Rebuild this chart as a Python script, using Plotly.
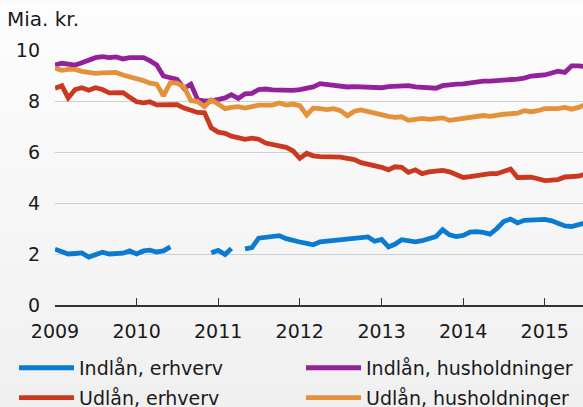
import plotly.graph_objects as go
import pandas as pd

months = pd.date_range("2009-01-01", periods=79, freq="MS")

indlaan_erhverv = [2.19,2.08,2.0,2.02,2.04,1.88,1.95,2.07,2.0,2.0,2.03,2.12,
                   2.0,2.12,2.15,2.08,2.12,2.28,None,None,None,None,None,2.05,
                   2.14,1.98,2.22,None,2.2,2.25,2.62,2.65,2.7,2.72,2.6,2.52,
                   2.47,2.42,2.36,2.48,2.51,2.51,2.56,2.6,2.63,2.63,2.67,2.5,
                   2.57,2.28,2.38,2.56,2.52,2.48,2.52,2.6,2.68,2.95,2.75,2.68,
                   2.73,2.86,2.88,2.85,2.78,3.0,3.27,3.37,3.22,3.32,3.32,3.33,
                   3.36,3.3,3.22,3.1,3.08,3.15,3.22]
indlaan_hush = [9.41,9.48,9.45,9.41,9.5,9.6,9.7,9.74,9.7,9.73,9.65,9.7,
                9.72,9.7,9.58,9.41,8.98,8.9,8.85,8.5,8.66,8.05,8.0,8.0,
                8.05,8.12,8.25,8.1,8.28,8.3,8.45,8.47,8.44,8.43,8.44,8.42,
                8.45,8.5,8.55,8.68,8.65,8.62,8.56,8.55,8.56,8.55,8.5,8.5,
                8.52,8.56,8.58,8.58,8.6,8.55,8.52,8.5,8.5,8.6,8.65,8.66,
                8.67,8.72,8.76,8.78,8.78,8.79,8.8,8.82,8.86,8.9,8.98,9.0,
                9.02,9.1,9.17,9.12,9.38,9.38,9.35]
udlaan_erhverv = [8.5,8.6,8.12,8.45,8.52,8.42,8.52,8.45,8.32,8.33,8.33,8.15,
                  7.97,7.93,7.97,7.85,7.84,7.86,7.86,7.72,7.65,7.55,7.54,6.95,
                  6.78,6.73,6.62,6.58,6.5,6.54,6.5,6.35,6.3,6.26,6.18,6.05,
                  5.75,5.95,5.85,5.82,5.82,5.84,5.8,5.75,5.7,5.58,5.52,5.48,
                  5.4,5.3,5.42,5.4,5.2,5.3,5.15,5.22,5.27,5.28,5.22,5.12,
                  5.0,5.03,5.08,5.1,5.15,5.15,5.22,5.33,5.0,5.01,5.01,4.95,
                  4.88,4.9,4.92,5.02,5.03,5.05,5.14]
udlaan_hush = [9.28,9.2,9.24,9.24,9.16,9.1,9.08,9.1,9.12,9.12,9.02,8.96,
               8.9,8.8,8.7,8.66,8.2,8.72,8.7,8.55,8.02,7.98,7.78,8.05,
               7.88,7.7,7.75,7.78,7.72,7.78,7.84,7.84,7.84,7.92,7.84,7.88,
               7.82,7.45,7.72,7.7,7.66,7.7,7.62,7.42,7.6,7.65,7.58,7.54,
               7.48,7.4,7.36,7.38,7.24,7.28,7.32,7.28,7.33,7.34,7.24,7.28,
               7.35,7.38,7.42,7.43,7.4,7.46,7.48,7.5,7.52,7.62,7.58,7.62,
               7.7,7.7,7.7,7.75,7.68,7.75,7.85]

names = ["Indlån, erhverv", "Indlån, husholdninger", "Udlån, erhverv", "Udlån, husholdninger"]
series = [indlaan_erhverv, indlaan_hush, udlaan_erhverv, udlaan_hush]
colors = ["#0b7ad1", "#93229a", "#c9381f", "#e3923a"]

year_vals = ["2009-01-01", "2010-01-01", "2011-01-01", "2012-01-01", "2013-01-01", "2014-01-01", "2015-01-01"]
year_text = ["2009", "2010", "2011", "2012", "2013", "2014", "2015"]
y_ticks = [0, 2, 4, 6, 8, 10]

FONT = "DejaVu Sans"
FS = 19
W, H = 583, 407
L, R, T, B = 55, 0, 49.5, 102
pw, ph = W - L - R, H - T - B


def px_x(px):
    return (px - L) / pw


def px_y(py):
    return (T + ph - py) / ph


# legend slot positions (left px, centre-y px)
leg_pos = [(14, 368), (301, 368), (14, 398), (301, 398)]
leg_ids = ["legend", "legend2", "legend3", "legend4"]

fig = go.Figure()
for nm, ys, c, lg in zip(names, series, colors, leg_ids):
    fig.add_trace(go.Scatter(x=months, y=ys, name=nm, mode="lines",
                             line=dict(color=c, width=4.8), legend=lg,
                             showlegend=True, connectgaps=False))

# soft vertical background gradient
nb = 40
shapes = []
for k in range(nb):
    t = k / (nb - 1)
    g = int(round(253 - t * 13))
    top_px = H * k / nb
    bot_px = H * (k + 1) / nb + 0.5
    shapes.append(dict(type="rect", xref="paper", yref="paper", layer="below",
                       x0=px_x(-2), x1=px_x(W + 2),
                       y0=px_y(top_px), y1=px_y(bot_px),
                       fillcolor=f"rgb({g},{g},{g})", line=dict(width=0)))

layout_legends = {}
for lid, (lx, ly) in zip(leg_ids, leg_pos):
    layout_legends[lid] = dict(orientation="h", x=px_x(lx), xanchor="left",
                               y=px_y(ly), yanchor="middle", itemwidth=55,
                               bgcolor="rgba(0,0,0,0)", font=dict(size=FS))

fig.update_layout(
    width=W, height=H,
    showlegend=True,
    margin=dict(l=L, r=R, t=T, b=B, autoexpand=False),
    paper_bgcolor="#f4f4f4",
    plot_bgcolor="rgba(0,0,0,0)",
    font=dict(family=FONT, size=FS, color="#1a1a1a"),
    shapes=shapes,
    xaxis=dict(range=["2009-01-01", "2015-06-21"], tickvals=year_vals, ticktext=year_text,
               ticks="inside", ticklen=7, tickwidth=1.2, tickcolor="#333333",
               showline=True, linecolor="#333333", linewidth=1.5,
               showgrid=False, zeroline=False, tickfont=dict(size=FS),
               ticklabelstandoff=8),
    yaxis=dict(range=[0, 10], tickvals=y_ticks, showgrid=True, gridcolor="#cfcfcf",
               gridwidth=1.2, zeroline=False, showline=False, ticks="",
               ticklabelstandoff=14, tickfont=dict(size=FS)),
    annotations=[dict(text="Mia. kr.", xref="paper", yref="paper", x=px_x(5), y=px_y(18),
                      xanchor="left", yanchor="middle", showarrow=False,
                      font=dict(size=FS + 1))],
    **layout_legends,
)

fig.write_html("out.html", config={"displayModeBar": False},
               post_script="document.body.style.margin='0';document.body.style.overflow='hidden';")
